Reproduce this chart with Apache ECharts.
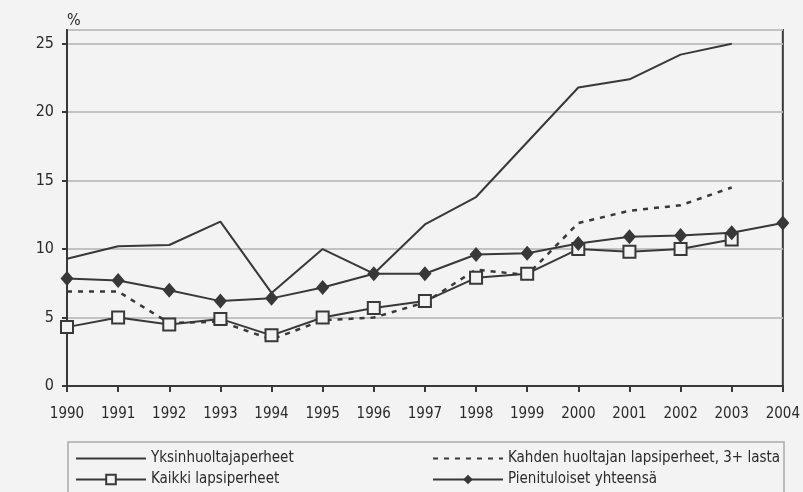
<!DOCTYPE html>
<html>
<head>
<meta charset="utf-8">
<script src="https://cdn.jsdelivr.net/npm/echarts@6/dist/echarts.min.js"></script>
<style>
html, body { margin: 0; padding: 0; background: #f3f3f3; }
#chart { width: 803px; height: 492px; }
</style>
</head>
<body>
<div id="chart"></div>
<script>
var myChart = echarts.init(document.getElementById('chart'));

var years = ['1990', '1991', '1992', '1993', '1994', '1995', '1996', '1997',
    '1998', '1999', '2000', '2001', '2002', '2003', '2004'];
var yksinhuoltaja = [9.3, 10.2, 10.3, 12.0, 6.8, 10.0, 8.2, 11.8, 13.8, 17.8, 21.8, 22.4, 24.2, 25.0, null];
var kahdenHuoltajan = [6.9, 6.9, 4.6, 4.7, 3.4, 4.8, 5.0, 6.1, 8.5, 8.1, 11.9, 12.8, 13.2, 14.5, null];
var kaikkiLapsiperheet = [4.3, 5.0, 4.5, 4.9, 3.7, 5.0, 5.7, 6.2, 7.9, 8.2, 10.0, 9.8, 10.0, 10.7, null];
var pienituloiset = [7.85, 7.7, 7.0, 6.2, 6.4, 7.2, 8.2, 8.2, 9.6, 9.7, 10.4, 10.9, 11.0, 11.2, 11.9];

var ink = '#383838';
var font = "'DejaVu Sans Condensed', 'Liberation Sans', sans-serif";
var noSymbol = { opacity: 0 };

myChart.setOption({
    backgroundColor: '#f3f3f3',
    animation: false,
    textStyle: { fontFamily: font, color: '#2a2a2a' },
    grid: {
        left: 67,
        right: 19,
        top: 30,
        bottom: 106,
        show: true,
        borderColor: ink,
        borderWidth: 2,
        backgroundColor: 'transparent'
    },
    legend: [
        {
            left: 75,
            top: 451,
            padding: 0,
            orient: 'vertical',
            itemWidth: 70,
            itemHeight: 12,
            itemGap: 6,
            textStyle: { fontFamily: font, fontSize: 15, color: '#2a2a2a' },
            data: [
                { name: 'Yksinhuoltajaperheet', itemStyle: noSymbol },
                'Kaikki lapsiperheet'
            ]
        },
        {
            left: 432,
            top: 451,
            padding: 0,
            orient: 'vertical',
            itemWidth: 70,
            itemHeight: 12,
            itemGap: 6,
            textStyle: { fontFamily: font, fontSize: 15, color: '#2a2a2a' },
            data: [
                { name: 'Kahden huoltajan lapsiperheet, 3+ lasta', itemStyle: noSymbol },
                'Pienituloiset yhteensä'
            ]
        }
    ],
    graphic: [
        {
            type: 'rect',
            shape: { x: 68, y: 442, width: 716, height: 70 },
            style: { fill: 'none', stroke: '#aaaaaa', lineWidth: 1.5 }
        }
    ],
    xAxis: {
        type: 'category',
        data: years,
        boundaryGap: false,
        axisLine: { lineStyle: { color: ink, width: 2 } },
        axisTick: { show: true, length: 6, lineStyle: { color: ink, width: 2 } },
        axisLabel: { fontSize: 15, color: '#2a2a2a', margin: 21, interval: 0 },
        splitLine: { show: false }
    },
    yAxis: {
        type: 'value',
        min: 0,
        max: 26,
        interval: 5,
        name: '%',
        nameLocation: 'end',
        nameGap: 1,
        nameTextStyle: { fontSize: 16, color: '#2a2a2a', align: 'left' },
        axisLine: { show: true, lineStyle: { color: ink, width: 2 } },
        axisTick: { show: true, length: 5, lineStyle: { color: ink, width: 2 } },
        axisLabel: { fontSize: 16, color: '#2a2a2a', margin: 13, showMaxLabel: false },
        splitLine: { show: true, lineStyle: { color: '#c2c2c2', width: 2 } }
    },
    series: [
        {
            name: 'Yksinhuoltajaperheet',
            type: 'line',
            data: yksinhuoltaja,
            symbol: 'none',
            lineStyle: { color: ink, width: 2 },
            itemStyle: { color: ink }
        },
        {
            name: 'Kahden huoltajan lapsiperheet, 3+ lasta',
            type: 'line',
            data: kahdenHuoltajan,
            symbol: 'none',
            lineStyle: { color: ink, width: 2.5, type: [5, 6] },
            itemStyle: { color: ink }
        },
        {
            name: 'Kaikki lapsiperheet',
            type: 'line',
            data: kaikkiLapsiperheet,
            symbol: 'rect',
            symbolSize: 12,
            lineStyle: { color: ink, width: 2 },
            itemStyle: { color: '#f3f3f3', borderColor: ink, borderWidth: 2 }
        },
        {
            name: 'Pienituloiset yhteensä',
            type: 'line',
            data: pienituloiset,
            symbol: 'diamond',
            symbolSize: [13, 15],
            lineStyle: { color: ink, width: 2 },
            itemStyle: { color: ink }
        }
    ]
});
</script>
</body>
</html>
